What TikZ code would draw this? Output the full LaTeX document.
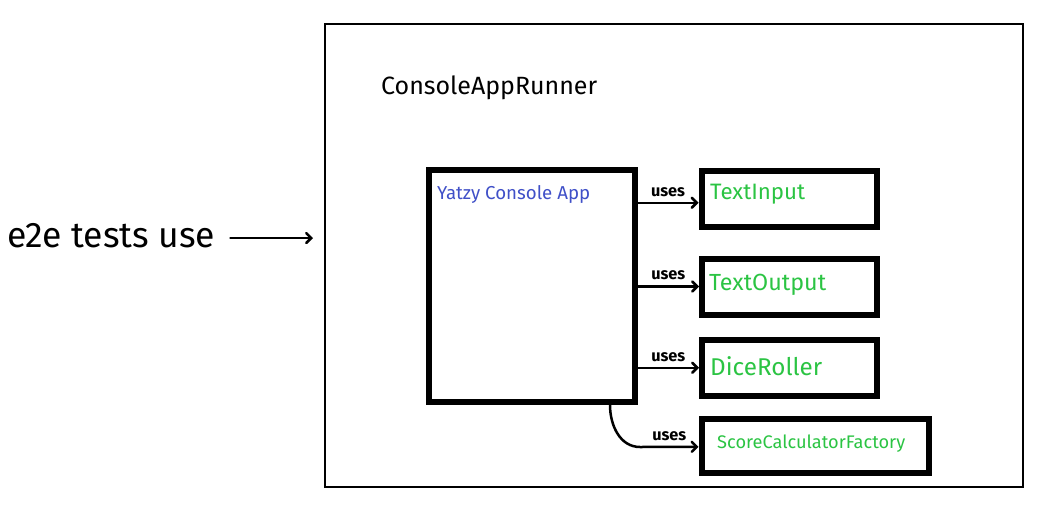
\documentclass[tikz,border=0pt]{standalone}
\usepackage{fontspec}
\setmainfont{Fira Sans}
\usetikzlibrary{arrows.meta}
\definecolor{appblue}{HTML}{4050C8}
\definecolor{depgreen}{HTML}{2BC443}
\newcommand{\fitw}[2]{\resizebox{#1}{!}{#2}}
\newcommand{\useslabel}{\fitw{34pt}{\bfseries uses}}
\begin{document}
\begin{tikzpicture}[x=1pt,y=-1pt,
  outerbox/.style={draw=black,line width=2pt,minimum width=698pt,minimum height=463pt,inner sep=0pt},
  thickbox/.style={draw=black,line width=6pt,inner sep=0pt},
  lbl/.style={anchor=west,inner sep=0pt},
  usearrow/.style={draw=black,line width=2.5pt,line cap=round,-{Straight Barb[length=5pt,width=10pt,line cap=round]}},
  useslbl/.style={inner sep=0pt,above=5pt}
]
\useasboundingbox (0,0) rectangle (1052,523);
\fill[white] (0,0) rectangle (1052,523);

\node[outerbox] (runner) at (674,255.5) {};
\node[lbl] (runnerlbl) at (381,88) {\fitw{216pt}{ConsoleAppRunner}};

\node[thickbox,minimum width=206pt,minimum height=232.5pt] (yatzy) at (531.5,285.75) {};
\node[lbl,text=appblue] (yatzylbl) at (437,194) {\fitw{153pt}{Yatzy Console App}};

\node[thickbox,minimum width=175pt,minimum height=55.5pt] (ti) at (789,198.75) {};
\node[lbl,text=depgreen] (tilbl) at (710,194) {\fitw{95pt}{TextInput}};

\node[thickbox,minimum width=175pt,minimum height=56pt] (to) at (789.5,286.5) {};
\node[lbl,text=depgreen] (tolbl) at (709,285) {\fitw{117pt}{TextOutput}};

\node[thickbox,minimum width=175pt,minimum height=56.5pt] (dr) at (789.5,367.75) {};
\node[lbl,text=depgreen] (drlbl) at (710,366) {\fitw{112pt}{DiceRoller}};

\node[thickbox,minimum width=227pt,minimum height=54.5pt] (scf) at (815,445.75) {};
\node[lbl,text=depgreen] (scflbl) at (717,444) {\fitw{188pt}{ScoreCalculatorFactory}};

\node[lbl] (e2e) at (7,236) {\fitw{208pt}{e2e tests use}};
\coordinate (e2eend) at (313,238);
\draw[usearrow] ([xshift=15pt,yshift=-2pt]e2e.east) -- (e2eend);

\draw[usearrow] ([yshift=-4pt]yatzy.east |- ti.west) -- ([yshift=-4pt]ti.west) node[useslbl,midway] {\useslabel};
\draw[usearrow] (yatzy.east |- to.west) -- (to.west) node[useslbl,midway] {\useslabel};
\draw[usearrow] (yatzy.east |- dr.west) -- (dr.west) node[useslbl,midway] {\useslabel};
\coordinate (bend) at (640,447);
\draw[usearrow] ([xshift=78.5pt]yatzy.south) to[out=-90,in=180] (bend) -- ([yshift=-1pt]scf.west) node[useslbl,midway] {\useslabel};
\end{tikzpicture}
\end{document}
